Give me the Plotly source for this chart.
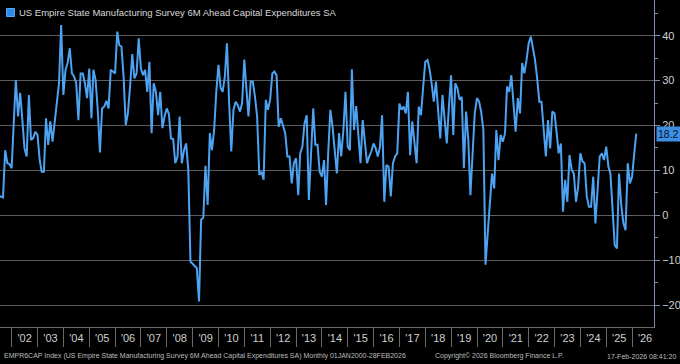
import pandas as pd
import plotly.graph_objects as go

# ---------------- data ----------------
series_name = "US Empire State Manufacturing Survey 6M Ahead Capital Expenditures SA"
first_month_end = "2001-06-30"

capex_2001_2007 = [
    4.3, 4.2, 4.0, 14.5, 11.6, 11.4,
    10.5, 21.2, 30.1, 22.0, 27.3, 21.2, 14.9, 13.1, 26.8, 16.8, 17.2, 18.6,
    17.9, 12.3, 9.7, 9.7, 21.6, 15.7, 20.9, 16.4, 20.5, 24.9, 29.4, 42.4,
    26.8, 32.4, 33.9, 37.2, 31.6, 30.9, 29.4, 21.2, 31.6, 31.6, 29.4, 26.1,
    32.7, 21.6, 32.4, 30.1, 23.5, 14.0, 23.8, 24.2, 25.5, 23.8, 32.4, 32.0,
    31.6, 40.9, 37.9, 37.6, 30.9, 20.1, 22.7, 28.7, 35.9, 30.5, 31.6, 39.4,
    32.7, 31.2, 32.4, 27.5, 34.2, 18.3, 29.4, 27.5, 22.3, 27.5, 19.4,
]
capex_2008_2013 = [
    22.0, 23.8, 22.5, 17.1, 17.0, 11.6, 13.0, 22.0, 11.6, 14.5, 16.0, 10.0,
    -10.3, -10.8, -11.2, -11.8, -19.2, -1.0, -0.5, 11.0, 2.3, 18.3, 14.5, 19.0,
    27.5, 33.5, 28.3, 27.5, 30.9, 38.3, 24.9, 14.2, 23.5, 25.3, 24.5, 23.1,
    25.0, 34.7, 27.9, 22.0, 29.8, 29.8, 26.4, 22.0, 9.0, 9.7, 7.9, 25.7,
    23.5, 25.7, 31.6, 32.0, 31.2, 19.7, 21.6, 19.7, 18.3, 13.1, 13.1, 7.1,
    11.6, 12.7, 4.5, 13.8, 15.3, 20.5, 22.3, 3.4, 13.8, 23.8, 15.7, 15.7,
    9.7, 8.6,
]
capex_2014_2019 = [
    12.3, 2.3, 14.0, 23.5, 19.7, 13.8, 9.3, 18.3, 13.1, 19.0, 27.5, 15.3,
    14.5, 32.5, 19.0, 24.3, 16.8, 11.6, 21.2, 16.8, 11.6, 13.1, 14.2, 16.0,
    14.9, 13.1, 15.3, 22.3, 3.0, 11.2, 10.8, 4.2, 11.6, 13.1, 13.8, 24.9,
    23.5, 24.2, 22.7, 27.5, 13.4, 20.9, 15.3, 11.6, 24.2, 22.3, 28.3, 34.2,
    34.6, 32.7, 29.4, 25.3, 29.8, 23.5, 17.1, 26.8, 21.2, 16.0, 24.2, 31.2,
    17.9, 29.4, 28.3, 25.7, 26.4, 10.5, 23.1, 16.8, 4.5, 13.4, 22.7, 26.1,
    25.3,
]
capex_2020_2026 = [
    23.0, 19.0, -11.0, -4.0, 1.9, 9.3, 6.0, 19.0, 12.3, 17.9, 16.4, 18.3,
    28.7, 27.5, 31.2, 24.9, 18.6, 26.1, 22.7, 33.9, 31.6, 34.5, 38.3, 39.8,
    37.6, 34.6, 30.5, 25.3, 25.3, 18.3, 13.1, 21.2, 14.9, 23.1, 22.7, 18.3,
    13.8, 16.0, 0.8, 7.9, 3.0, 13.4, 10.1, 9.3, 3.0, 6.4, 13.8, 12.0,
    11.6, 4.2, 1.9, 1.9, 8.6, -1.8, 6.0, 13.1, 13.8, 12.3, 15.3, 10.8,
    9.3, 1.2, -6.6, -7.4, 9.3, 2.3, -1.8, -3.3, 11.6, 7.1, 8.6, 13.8,
    18.2,
]
values = capex_2001_2007 + capex_2008_2013 + capex_2014_2019 + capex_2020_2026
dates = pd.date_range(first_month_end, periods=len(values), freq=pd.offsets.MonthEnd())

x_range = ["2001-07-19", "2026-11-06"]
y_range = [-24.88, 47.95]

footer_left = ("EMPR6CAP Index (US Empire State Manufacturing Survey 6M Ahead Capital "
               "Expenditures SA) Monthly 01JAN2000-28FEB2026")
footer_mid = "Copyright\u00a9 2026 Bloomberg Finance L.P."
footer_right = "17-Feb-2026 08:41:20"

# ---------------- style ----------------
W, H = 680, 364
ML, MR, MT, MB = 0, 26, 0, 37
PW, PH = W - ML - MR, H - MT - MB
LINE = "#4da2f2"
GRID = "#5c5c5c"
AXIS = "#7d8ea8"
TXT = "#cfcfcf"
FONT = "Liberation Sans, Arial, sans-serif"


def px(xpix):
    return (xpix - ML) / PW


def py(ypix):
    return (MT + PH - ypix) / PH


fig = go.Figure()
fig.add_trace(go.Scatter(x=dates, y=values, mode="lines",
                         line=dict(color=LINE, width=2), showlegend=False,
                         hoverinfo="skip"))
# invisible copy that drives the period-centred year labels axis
fig.add_trace(go.Scatter(x=dates, y=values, mode="lines", xaxis="x2",
                         line=dict(color=LINE, width=0), opacity=0,
                         showlegend=False, hoverinfo="skip"))

fig.update_layout(
    width=W, height=H,
    margin=dict(l=ML, r=MR, t=MT, b=MB),
    paper_bgcolor="black", plot_bgcolor="black",
    font=dict(family=FONT, color=TXT, size=11),
    showlegend=False,
    xaxis=dict(type="date", range=x_range, showgrid=False, zeroline=False,
               showline=True, linecolor="#6a6a6a", linewidth=1,
               ticks="outside", ticklen=19, tickwidth=1, tickcolor="#6a6a6a",
               dtick="M12", tick0="2002-01-01", showticklabels=False),
    xaxis2=dict(type="date", range=x_range, overlaying="x", anchor="y",
                side="bottom", showgrid=False, zeroline=False, showline=False,
                ticks="", dtick="M12", tick0="2002-01-01",
                ticklabelmode="period", tickformat="'%y",
                tickfont=dict(size=11, color=TXT, family=FONT),
                ticklabelstandoff=3),
    yaxis=dict(side="right", range=y_range, dtick=10, tick0=0,
               showgrid=True, gridcolor=GRID, gridwidth=1, zeroline=False,
               showline=True, linecolor=AXIS, linewidth=1,
               ticks="outside", ticklen=5, tickcolor=AXIS,
               tickfont=dict(size=11, color=TXT, family=FONT),
               minor=dict(dtick=5, ticks="outside", ticklen=3,
                          tickcolor=AXIS, showgrid=False)),
)

# legend swatch + title
fig.add_shape(type="rect", xref="paper", yref="paper",
              x0=px(6.5), x1=px(14.5), y0=py(16.5), y1=py(8.5),
              fillcolor="#2f8be8", line=dict(color="#5aa8f5", width=1))
fig.add_annotation(xref="paper", yref="paper", x=px(16.5), y=py(12.5),
                   xanchor="left", yanchor="middle", showarrow=False,
                   text=series_name, font=dict(size=9.5, color="#d8d8d8", family=FONT))

# last value tag
fig.add_annotation(xref="paper", yref="y", x=1, y=values[-1], xanchor="left",
                   yanchor="middle", xshift=2, showarrow=False,
                   text=f"{values[-1]:.1f}", bgcolor="#3d8fe3", borderpad=1,
                   font=dict(size=10.5, color="#08121f", family=FONT))

# footer
for txt, xp, anchor in [(footer_left, 2, "left"), (footer_mid, 433, "left"),
                        (footer_right, 678, "right")]:
    fig.add_annotation(xref="paper", yref="paper", x=px(xp), y=py(356),
                       xanchor=anchor, yanchor="middle", showarrow=False,
                       text=txt, font=dict(size=7, color="#bdbdbd", family=FONT))

# the page's default 8px body margin would push the chart off the 680x364 window
fig.write_html("out.html", config={"displayModeBar": False},
               post_script="document.body.style.margin='0px';")
